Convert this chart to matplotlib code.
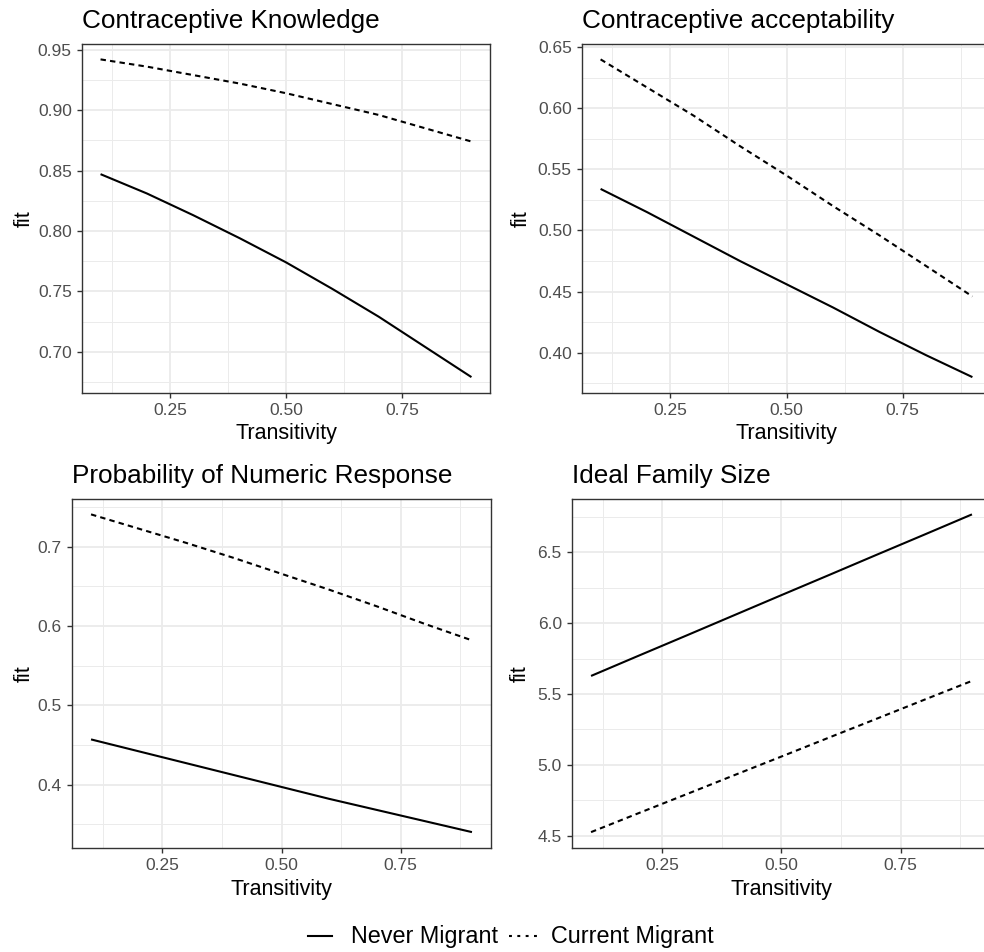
import matplotlib
matplotlib.use("Agg")
import matplotlib.pyplot as plt
from matplotlib.ticker import MultipleLocator, FormatStrFormatter
from matplotlib.lines import Line2D

plt.rcParams["font.family"] = ["Liberation Sans", "DejaVu Sans"]

# Predicted fits across transitivity, by migration status
transitivity = [0.1, 0.2, 0.3, 0.4, 0.5, 0.6, 0.7, 0.8, 0.9]

knowledge_never = [0.847, 0.831, 0.813, 0.794, 0.774, 0.752, 0.729, 0.704, 0.679]
knowledge_current = [0.942, 0.936, 0.929, 0.922, 0.914, 0.905, 0.896, 0.885, 0.874]

accept_never = [0.534, 0.515, 0.495, 0.475, 0.456, 0.437, 0.417, 0.398, 0.380]
accept_current = [0.640, 0.617, 0.594, 0.569, 0.545, 0.520, 0.496, 0.471, 0.446]

numeric_never = [0.457, 0.442, 0.427, 0.412, 0.397, 0.382, 0.368, 0.354, 0.340]
numeric_current = [0.741, 0.723, 0.705, 0.686, 0.666, 0.646, 0.625, 0.603, 0.582]

family_never = [5.627, 5.770, 5.912, 6.055, 6.198, 6.340, 6.483, 6.625, 6.768]
family_current = [4.524, 4.658, 4.791, 4.925, 5.058, 5.192, 5.325, 5.459, 5.592]

titles = ["Contraceptive Knowledge", "Contraceptive acceptability",
          "Probability of Numeric Response", "Ideal Family Size"]
series_labels = ["Never Migrant", "Current Migrant"]

W, H = 984, 952
fig = plt.figure(figsize=(W / 100, H / 100), dpi=100)

# panel boxes in pixels: left, right, top, bottom; plus x of the "fit" label
boxes = [(82, 490, 43.5, 393, 24), (582, 991, 43.5, 393, 521),
         (72, 491, 498.5, 848, 24), (572, 991, 498.5, 848, 520)]
panels = [
    (knowledge_never, knowledge_current, 0.05, "%.2f"),
    (accept_never, accept_current, 0.05, "%.2f"),
    (numeric_never, numeric_current, 0.1, "%.1f"),
    (family_never, family_current, 0.5, "%.1f"),
]

DASH = (0, (2.6, 2.0))
border = "#333333"
for (l, r, t, b, ylx), title, (never, current, ystep, yfmt) in zip(boxes, titles, panels):
    ax = fig.add_axes([l / W, 1 - b / H, (r - l) / W, (b - t) / H])
    ax.plot(transitivity, never, color="black", lw=1.5, solid_capstyle="butt")
    ax.plot(transitivity, current, color="black", lw=1.5, linestyle=DASH)

    xs = transitivity
    xr = max(xs) - min(xs)
    ax.set_xlim(min(xs) - 0.05 * xr, max(xs) + 0.05 * xr)
    ys = never + current
    yr = max(ys) - min(ys)
    ax.set_ylim(min(ys) - 0.05 * yr, max(ys) + 0.05 * yr)

    ax.xaxis.set_major_locator(MultipleLocator(0.25))
    ax.xaxis.set_minor_locator(MultipleLocator(0.125))
    ax.yaxis.set_major_locator(MultipleLocator(ystep))
    ax.yaxis.set_minor_locator(MultipleLocator(ystep / 2))
    ax.xaxis.set_major_formatter(FormatStrFormatter("%.2f"))
    ax.yaxis.set_major_formatter(FormatStrFormatter(yfmt))

    ax.grid(which="major", color="#EBEBEB", lw=1.3)
    ax.grid(which="minor", color="#EBEBEB", lw=0.7)
    ax.set_axisbelow(True)
    for s in ax.spines.values():
        s.set_color(border)
        s.set_linewidth(1.0)
    ax.tick_params(which="major", length=3.8, width=1.0, color=border,
                   labelsize=12.5, labelcolor="#4D4D4D", pad=3.5)
    ax.tick_params(which="minor", length=0)

    ax.set_title(title, loc="left", fontsize=18.8, pad=11.2, color="black")
    fig.text((l + r) / 2 / W, 1 - (b + 41) / H,
             "Transitivity", ha="center", va="center", fontsize=15.5)
    fig.text(ylx / W, 1 - (t + b) / 2 / H, "fit", rotation=90,
             ha="center", va="center", fontsize=15.5)

# legend along the bottom
ly = 1 - 936 / H
fig.add_artist(Line2D([308 / W, 332 / W], [ly, ly], color="black", lw=1.5,
                      transform=fig.transFigure))
fig.text(351 / W, ly, series_labels[0], ha="left", va="center", fontsize=16.8)
fig.add_artist(Line2D([509 / W, 542 / W], [ly, ly], color="black", lw=1.5,
                      linestyle=(0, (1.4, 2.6)), transform=fig.transFigure))
fig.text(551 / W, ly, series_labels[1], ha="left", va="center", fontsize=16.8)

fig.savefig("out.png", dpi=100)
